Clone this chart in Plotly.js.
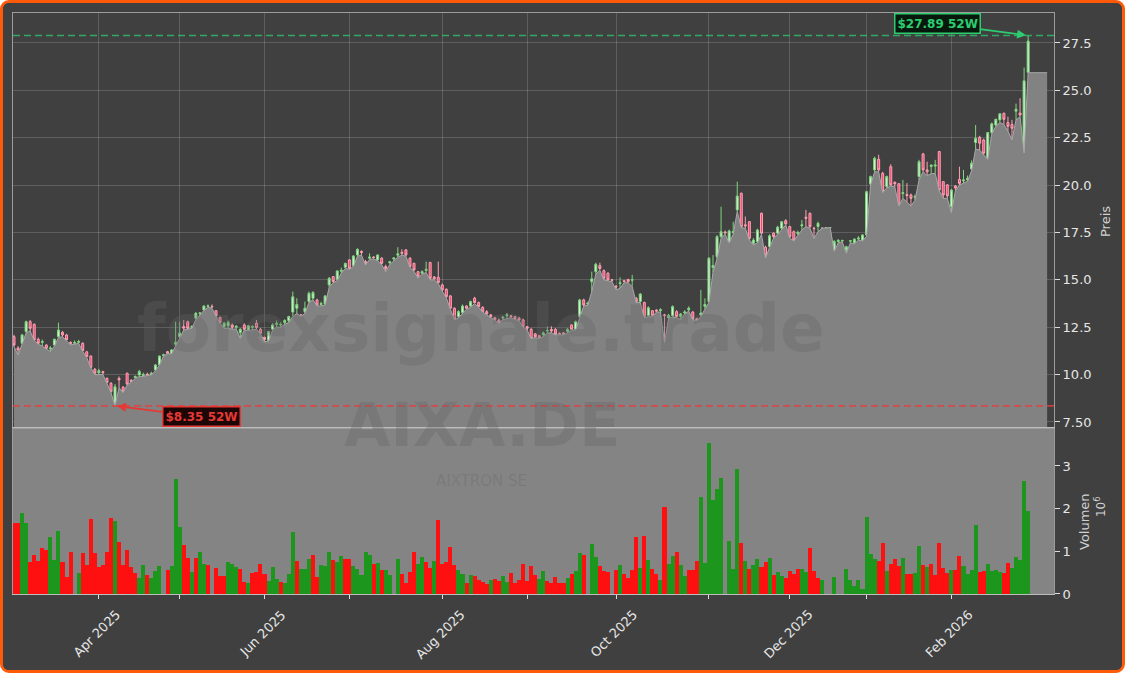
<!DOCTYPE html>
<html><head><meta charset="utf-8">
<script src="https://cdn.plot.ly/plotly-3.0.1.min.js"></script>
<style>
html,body{margin:0;padding:0;background:#ffffff;}
#wrap{position:absolute;left:0;top:0;width:1125px;height:673px;box-sizing:border-box;border:3px solid #ff5a0a;border-radius:9px;overflow:hidden;background:#404040;}
#chart{position:absolute;left:-3px;top:-3px;width:1125px;height:673px;}
</style></head><body><div id="wrap"><div id="chart"></div></div>
<script>
// ---- data (AIXA.DE daily, Mar 2025 - Feb 2026) ----
const firstDay = '2025-03-03';
const lastDay = '2026-02-27';
const holidays = ['2025-04-18','2025-04-21','2025-05-01','2025-12-24','2025-12-25','2025-12-26','2025-12-31','2026-01-01'];

const opens = [12.0,11.4,11.65,12.27,12.79,12.65,11.86,11.7,11.56,11.35,
11.56,12.0,12.23,12.09,11.7,11.65,11.7,11.65,11.2,10.98,
10.28,10.1,10.15,9.8,9.54,8.48,9.8,9.33,10.07,9.7,
9.85,9.98,9.95,10.02,10.0,10.24,10.51,11.0,11.21,11.12,
11.6,12.0,12.53,12.79,12.5,12.97,13.23,13.41,13.6,13.6,
13.37,13.02,12.53,12.57,12.62,12.5,12.21,12.62,12.35,12.5,
12.71,12.39,11.97,11.8,12.39,12.65,12.62,12.75,12.85,13.3,
13.5,13.15,13.32,13.85,14.03,13.94,13.7,13.73,14.73,15.17,
15.03,15.45,15.66,16.05,15.73,16.31,16.5,15.96,16.14,16.2,
16.05,16.14,15.7,15.9,16.1,16.3,16.45,16.58,16.14,15.87,
15.43,15.35,15.5,15.91,15.15,15.13,14.73,14.5,14.15,13.5,
13.06,13.27,13.62,13.62,14.03,13.8,13.55,13.32,13.15,13.0,
12.88,12.98,13.1,13.1,13.05,12.97,12.88,12.53,12.39,12.15,
12.05,12.1,12.3,12.38,12.39,12.18,12.2,12.27,12.62,12.39,
13.06,13.94,13.72,14.9,15.43,15.75,15.48,15.35,15.0,14.66,
14.8,14.95,15.02,14.98,14.02,13.85,13.8,13.1,13.37,13.4,
13.38,13.15,13.0,13.1,13.32,13.05,13.25,13.42,13.3,12.95,
13.15,13.6,13.85,15.65,16.22,17.28,17.52,17.02,17.5,18.69,
19.57,17.9,18.07,16.93,17.02,18.51,16.72,16.75,17.46,17.46,
17.72,18.12,17.81,17.54,17.45,17.85,18.3,18.51,17.72,17.81,
17.72,17.76,17.76,16.58,17.02,17.05,16.58,17.04,16.97,17.15,
17.1,17.37,20.05,20.8,21.36,20.62,19.92,20.97,20.14,20.07,
19.55,19.5,19.48,19.35,20.45,21.64,20.8,20.98,21.0,21.77,
20.18,20.01,18.86,19.95,20.3,20.22,20.27,20.85,22.25,22.52,
22.38,21.41,22.77,23.17,23.44,23.79,23.3,23.2,23.9,23.8,
21.9,25.95];

const highs = [12.1,11.5,12.15,12.85,12.88,12.7,11.95,11.85,11.6,11.5,
11.9,12.74,12.3,12.15,11.75,11.8,11.83,11.7,11.25,11.0,
10.35,10.3,10.2,9.85,9.6,9.5,9.9,9.4,10.1,9.75,
9.95,10.25,10.1,10.1,10.15,10.55,11.0,11.1,11.25,11.35,
12.79,12.79,12.88,12.85,12.6,13.3,13.3,13.65,13.7,13.7,
13.4,13.05,12.78,12.85,12.7,12.6,12.45,12.7,12.62,12.6,
12.88,12.45,12.0,12.3,12.7,12.85,12.75,12.92,13.1,14.38,
14.03,13.2,13.85,14.38,14.4,14.0,13.85,14.2,15.15,15.2,
15.5,15.65,15.9,16.1,16.3,16.66,16.55,16.05,16.4,16.25,
16.35,16.2,15.8,16.0,16.2,16.72,16.61,16.62,16.2,15.9,
15.45,15.5,15.96,15.95,15.2,15.96,14.8,14.55,14.2,13.55,
13.4,13.7,13.65,13.9,14.1,13.85,13.6,13.4,13.2,13.05,
12.95,13.1,13.25,13.15,13.1,13.05,12.95,12.55,12.45,12.2,
12.1,12.27,12.53,12.55,12.45,12.22,12.25,12.45,12.65,12.85,
14.0,14.0,13.85,15.43,15.9,15.9,15.55,15.4,15.05,14.73,
15.13,15.0,15.05,15.26,14.1,14.3,13.85,13.6,13.4,13.45,
13.5,13.2,13.2,13.65,13.4,13.25,13.4,13.6,13.35,13.0,
14.47,14.02,16.2,16.3,17.35,18.86,17.6,17.65,18.07,20.18,
19.6,18.34,18.1,17.2,17.7,18.55,16.8,17.4,17.5,17.85,
18.1,18.2,17.85,17.6,17.6,18.16,18.69,18.55,17.8,18.07,
17.75,17.78,17.78,17.1,17.15,17.12,16.8,17.1,17.2,17.3,
17.4,19.7,20.5,21.5,21.6,20.7,20.5,21.1,20.2,20.1,
20.27,20.1,19.55,19.5,21.33,21.7,21.23,21.1,21.33,21.8,
20.2,20.05,19.8,20.0,20.97,20.8,20.5,21.3,23.17,22.6,
22.45,22.8,23.3,23.5,23.79,23.82,23.61,23.44,24.3,24.58,
26.2,27.89];

const lows = [11.47,11.04,11.6,12.2,12.3,11.8,11.6,11.5,11.35,11.21,
11.5,11.95,12.0,11.8,11.56,11.6,11.65,11.22,10.9,10.35,
10.0,10.0,10.0,9.54,9.05,8.35,9.3,9.05,9.45,9.6,
9.8,9.9,9.9,9.95,9.98,10.2,10.5,10.98,11.1,11.1,
11.47,11.9,12.35,12.38,12.44,12.9,13.15,13.38,13.55,13.5,
13.08,12.7,12.44,12.44,12.4,12.4,11.91,12.35,12.32,12.35,
12.39,12.15,11.74,11.76,12.35,12.5,12.5,12.65,12.75,13.06,
13.23,13.06,13.23,13.8,13.95,13.62,13.62,13.67,14.6,14.85,
14.95,15.35,15.6,15.55,15.7,16.25,16.3,15.78,16.08,16.1,
16.0,15.8,15.43,15.8,16.0,16.2,16.3,16.25,15.65,15.45,
15.08,15.3,15.38,15.0,15.0,14.8,14.4,14.05,13.45,12.88,
13.0,13.2,13.45,13.55,13.75,13.55,13.3,13.15,13.0,12.85,
12.71,12.9,12.97,13.0,12.9,12.85,12.5,12.35,11.9,11.95,
11.9,12.0,12.2,12.2,12.1,12.1,12.1,12.2,12.35,12.35,
13.0,13.62,13.65,14.38,15.3,15.5,15.0,14.95,14.9,14.47,
14.55,14.85,14.85,14.64,13.8,13.8,13.0,13.05,13.05,13.3,
13.3,11.69,12.95,13.05,13.0,12.9,13.2,13.35,12.9,12.85,
13.05,13.45,13.8,15.4,16.1,17.2,17.4,16.95,17.4,18.6,
17.75,17.72,17.1,16.84,16.95,17.4,16.15,16.7,17.2,17.4,
17.65,17.9,17.2,17.05,17.35,17.63,17.81,17.72,17.19,17.54,
17.72,17.76,17.76,16.5,16.95,17.0,16.4,16.95,16.9,17.1,
17.05,17.3,20.0,20.7,20.7,19.6,19.85,19.95,19.9,18.9,
19.3,19.1,18.9,19.2,20.27,20.7,20.5,20.6,20.62,19.7,
19.3,19.3,18.55,19.7,20.0,20.1,20.2,20.75,21.9,21.85,
21.6,21.35,22.7,23.1,23.3,23.2,22.85,22.38,23.44,23.6,
21.7,25.93];

const closes = [11.56,11.3,12.09,12.79,12.44,11.83,11.65,11.74,11.39,11.4,
11.86,12.35,12.09,11.83,11.65,11.69,11.74,11.26,10.95,10.38,
10.07,10.2,10.1,9.58,9.1,9.36,9.72,9.1,9.5,9.65,
9.9,10.16,10.0,9.97,10.07,10.51,10.98,11.04,11.12,11.3,
11.7,12.2,12.45,12.44,12.53,13.23,13.25,13.62,13.62,13.58,
13.09,12.74,12.71,12.76,12.5,12.55,12.39,12.39,12.57,12.53,
12.48,12.18,11.85,12.27,12.62,12.7,12.65,12.85,13.06,14.1,
13.7,13.1,13.5,14.29,14.33,13.67,13.75,14.15,15.08,14.91,
15.47,15.5,15.87,15.61,16.26,16.61,16.45,15.9,16.2,16.18,
16.31,15.87,15.6,15.95,16.15,16.37,16.4,16.31,15.7,15.52,
15.2,15.43,15.55,15.08,15.05,14.85,14.47,14.11,13.5,12.92,
13.32,13.62,13.5,13.85,13.8,13.59,13.32,13.2,13.05,12.9,
12.78,13.02,13.15,13.05,12.95,12.88,12.53,12.44,11.92,12.0,
11.96,12.2,12.32,12.3,12.14,12.14,12.15,12.39,12.39,12.79,
13.94,13.67,13.76,15.05,15.82,15.6,15.08,15.0,14.98,14.62,
14.85,14.92,14.9,15.0,13.85,14.25,13.06,13.53,13.1,13.35,
13.42,13.12,13.12,13.59,13.06,13.2,13.3,13.5,12.95,12.88,
13.25,13.7,16.14,15.75,17.28,17.54,17.48,17.58,17.55,19.42,
17.81,17.85,17.19,17.1,17.63,17.46,16.32,17.32,17.28,17.78,
18.07,17.95,17.28,17.1,17.5,17.9,18.25,17.81,17.7,17.98,
17.72,17.76,17.76,17.02,17.08,17.07,16.75,17.06,17.14,17.2,
17.37,19.65,20.45,21.41,20.8,19.65,20.45,20.01,20.07,18.95,
19.6,19.45,19.3,19.4,21.23,20.8,20.7,21.05,21.06,19.74,
19.48,19.43,19.74,19.85,20.09,20.27,20.36,21.15,22.47,22.21,
21.68,22.77,23.23,23.47,23.76,23.47,23.1,23.0,24.0,23.7,
25.5,27.6];

// volume in millions
const volumes = [1.66,1.66,1.89,1.66,0.76,0.91,0.78,1.07,1.03,1.34,
0.8,1.48,0.76,0.41,0.99,0,0.5,0.97,0.68,1.76,
0.95,0.64,0.68,0.98,1.79,1.71,1.22,0.68,1.02,0.64,
0.5,0.38,0.67,0.45,0.38,0.54,0.66,0,0.56,0.66,
2.69,1.56,1.14,0.84,0.52,0.84,0.98,0.7,0.69,0,
0.61,0.42,0.42,0.75,0.7,0.64,0.59,0.28,0.26,0.5,
0.52,0.7,0.47,0.3,0.63,0.34,0.29,0.25,0.47,1.45,
0.77,0.59,0.59,0.82,0.91,0.41,0.68,0.66,0.98,0.8,
0.75,0.89,0.81,0.82,0.66,0.59,0.45,0.98,0.91,0.7,
0.73,0.56,0.56,0.45,0,0.82,0.47,0.25,0.52,0.98,
0.7,0.87,0.74,0.61,0.77,1.73,0.7,0.75,1.11,0.68,
0.56,0.47,0.25,0.45,0.42,0.33,0.28,0.24,0.33,0.35,
0.3,0.42,0.28,0.49,0.26,0.33,0.7,0.3,0.66,0.45,
0.35,0.54,0.3,0.26,0.4,0.26,0.26,0.37,0.47,0.54,
0.96,0.91,0,1.17,0.87,0.66,0.54,0.52,0,0.56,
0.68,0.47,0.38,0.56,1.34,0.61,1.36,0.8,0.59,0.47,
0.33,2.04,0.7,0.89,0.99,0.68,0.42,0.56,0.56,0.77,
2.27,0.72,3.55,2.2,2.46,2.73,0,1.24,0.59,2.93,
1.2,0.77,0.59,0.68,0.82,0.63,0.74,0.85,0.45,0.52,
0.42,0.37,0.54,0.47,0.59,0.59,0.52,1.08,0.54,0.38,
0.33,0,0,0.4,0,0,0.59,0.33,0.19,0.33,
0.12,1.8,0.94,0.82,0.77,1.2,0.54,0.7,0.82,0.66,
0.84,0.47,0.47,0.49,1.13,0.68,0.63,0.7,0.45,1.2,
0.61,0.49,0.56,0.56,0.89,0.66,0.47,0.56,1.62,0.52,
0.54,0.7,0.54,0.56,0.52,0.49,0.73,0.61,0.87,0.8,
2.65,1.95];

// 1 = up day (green volume bar), 0 = down day (red)
const volUp = [0,0,1,1,0,0,0,0,0,1, 1,1,0,0,0,1,1,0,0,0, 0,0,0,0,0,1,0,0,0,0, 0,1,1,0,1,1,1,1,0,1,
1,1,0,0,1,0,1,1,0,0, 0,0,0,1,1,1,0,0,1,0, 0,0,0,1,1,1,0,1,1,1, 0,1,1,1,0,0,1,1,1,0,
1,1,0,0,1,1,1,1,1,0, 1,0,1,1,1,1,0,0,0,0, 1,1,0,0,1,0,0,0,0,0, 1,1,0,1,0,0,0,0,1,0,
0,1,1,0,0,0,0,0,0,0, 1,1,0,0,0,0,0,1,0,1, 1,0,1,1,1,0,0,0,1,0, 1,0,0,0,0,1,0,1,0,0,
1,0,1,1,0,1,1,0,0,0, 1,1,1,1,1,1,1,1,1,1, 0,1,0,1,1,0,0,1,0,1, 1,0,0,0,0,1,1,0,0,0,
1,1,1,1,1,1,1,1,1,1, 1,1,1,1,0,0,1,0,0,0, 1,0,0,1,1,0,1,0,0,0, 0,0,1,0,0,1,1,1,1,0,
0,1,1,1,1,0,0,1,1,1, 1,1];

const xTickLabels = ['Apr 2025','','Jun 2025','','Aug 2025','','Oct 2025','','Dec 2025','','Feb 2026'];
const priceTicks = [7.5,10,12.5,15,17.5,20,22.5,25,27.5];
const priceTickText = ['7.50','10.0','12.5','15.0','17.5','20.0','22.5','25.0','27.5'];
const volTicks = [0,1,2,3];
const volTickText = ['0','1','2','3'];

// ---- trading calendar ----
function tradingDays(a, b, hol){
  const out = []; const d = new Date(a + 'T12:00:00Z'); const end = new Date(b + 'T12:00:00Z');
  while (d <= end){
    const wd = d.getUTCDay(); const s = d.toISOString().slice(0,10);
    if (wd !== 0 && wd !== 6 && hol.indexOf(s) < 0) out.push(s);
    d.setUTCDate(d.getUTCDate() + 1);
  }
  return out;
}
const dates = tradingDays(firstDay, lastDay, holidays);
const N = closes.length;
const idx = dates.slice(0, N).map((_, i) => i);

// first trading day of each month (from April on)
const monthStarts = [];
for (let i = 1; i < N; i++) if (dates[i].slice(5,7) !== dates[i-1].slice(5,7)) monthStarts.push(i);

const hiVal = Math.max(...highs), hiIdx = highs.indexOf(hiVal);
const loVal = Math.min(...lows), loIdx = lows.indexOf(loVal);

const areaTail = 4.7; // low-area keeps last value a few bars to the right
const areaX = idx.concat([N - 1 + areaTail]);
const areaY = lows.concat([lows[N - 1]]);

const GREEN = '#1c961c', RED = '#ff1010';
const font = {family: 'DejaVu Sans, sans-serif', color: '#e6e6e6', size: 13};
const wm = 'rgba(100,100,100,0.32)';
const titleFont = {family: 'DejaVu Sans, sans-serif', size: 13, color: '#d0d0d0'};

const traces = [
  {type: 'scatter', mode: 'lines', x: areaX, y: areaY, fill: 'tozeroy', fillcolor: '#828282',
   line: {color: '#a8a8a8', width: 1}, xaxis: 'x', yaxis: 'y', hoverinfo: 'skip'},
  {type: 'candlestick', x: idx, open: opens, high: highs, low: lows, close: closes,
   increasing: {line: {color: '#7fd67f', width: 1}, fillcolor: '#dcf3dc'},
   decreasing: {line: {color: '#ffa0b4', width: 1}, fillcolor: '#ec4a72'},
   whiskerwidth: 0, xaxis: 'x', yaxis: 'y', hoverinfo: 'skip'},
  {type: 'bar', x: idx, y: volumes, width: 1,
   marker: {color: volUp.map(u => u ? GREEN : RED), line: {width: 0}},
   xaxis: 'x2', yaxis: 'y2', hoverinfo: 'skip'}
];

const xLabelAnns = monthStarts.map((m, k) => ({
  xref: 'x2', yref: 'paper', x: m, y: -0.0175, xanchor: 'center', yanchor: 'top', xshift: -2,
  text: xTickLabels[k] || '', showarrow: false, textangle: -45,
  font: {family: 'DejaVu Sans, sans-serif', size: 13, color: '#e6e6e6'}
})).filter(a => a.text !== '');

const xr = [-0.25, 257.4];
const layout = {
  width: 1125, height: 673,
  margin: {l: 13, r: 71, t: 13, b: 79},
  paper_bgcolor: '#404040', plot_bgcolor: '#404040',
  font: font, showlegend: false, bargap: 0,
  xaxis: {domain: [0, 1], range: xr, anchor: 'y', rangeslider: {visible: false},
    tickvals: monthStarts, showticklabels: false, ticks: '',
    showgrid: true, gridcolor: 'rgba(255,255,255,0.16)', gridwidth: 1,
    showline: true, mirror: true, linecolor: '#9c9c9c', linewidth: 1, zeroline: false},
  xaxis2: {domain: [0, 1], range: xr, anchor: 'y2', matches: 'x',
    tickvals: monthStarts, showticklabels: false,
    ticks: 'outside', ticklen: 4, tickcolor: '#dddddd',
    showgrid: false, showline: true, mirror: true, linecolor: '#bdbdbd', linewidth: 1, zeroline: false},
  yaxis: {domain: [0.2857, 1], range: [7.18, 29.08], side: 'right', anchor: 'x',
    tickvals: priceTicks, ticktext: priceTickText, ticks: 'outside', ticklen: 5, tickcolor: '#dddddd',
    showgrid: true, gridcolor: 'rgba(255,255,255,0.16)', zeroline: false,
    showline: true, mirror: true, linecolor: '#9c9c9c'},
  yaxis2: {domain: [0, 0.2857], range: [0, 3.89], side: 'right', anchor: 'x2',
    tickvals: volTicks, ticktext: volTickText, ticks: 'outside', ticklen: 5, tickcolor: '#dddddd',
    showgrid: false, zeroline: false, showline: true, mirror: true, linecolor: '#9c9c9c'},
  shapes: [
    {type: 'rect', xref: 'x2 domain', yref: 'y2 domain', x0: 0, x1: 1, y0: 0, y1: 1,
     fillcolor: '#848484', line: {width: 0}, layer: 'below'},
    {type: 'line', xref: 'x domain', x0: 0, x1: 1, yref: 'y', y0: hiVal, y1: hiVal,
     line: {color: 'rgba(46,204,113,0.75)', width: 1.6, dash: '7px,4px'}},
    {type: 'line', xref: 'x domain', x0: 0, x1: 1, yref: 'y', y0: loVal, y1: loVal,
     line: {color: 'rgba(231,60,60,0.8)', width: 1.6, dash: '7px,4px'}}
  ],
  annotations: [
    {xref: 'paper', yref: 'paper', x: 0.4496, y: 0.4578, text: 'forexsignale.trade', showarrow: false,
     font: {family: 'DejaVu Sans', size: 66, color: wm, weight: 'bold'}},
    {xref: 'paper', yref: 'paper', x: 0.4505, y: 0.2272, text: 'AIXA.DE', showarrow: false,
     font: {family: 'DejaVu Sans', size: 60, color: wm, weight: 'bold'}},
    {xref: 'paper', yref: 'paper', x: 0.4505, y: 0.1756, text: 'AIXTRON SE', showarrow: false,
     font: {family: 'DejaVu Sans', size: 15, color: wm}},
    {xref: 'x', yref: 'y', x: hiIdx, y: hiVal, text: '$' + hiVal.toFixed(2) + ' 52W',
     showarrow: true, ax: -91, ay: -12, arrowhead: 2, arrowsize: 1, arrowwidth: 1.8, arrowcolor: '#2ecc71', standoff: 2,
     font: {family: 'DejaVu Sans', size: 12, color: '#2ecc71', weight: 'bold'},
     bgcolor: '#07190c', bordercolor: '#2ecc71', borderwidth: 1.5, borderpad: 2},
    {xref: 'x', yref: 'y', x: loIdx, y: loVal, text: '$' + loVal.toFixed(2) + ' 52W',
     showarrow: true, ax: 86, ay: 11, arrowhead: 2, arrowsize: 1, arrowwidth: 1.8, arrowcolor: '#e53935', standoff: 2,
     font: {family: 'DejaVu Sans', size: 12, color: '#e53935', weight: 'bold'},
     bgcolor: '#1c0606', bordercolor: '#e53935', borderwidth: 1.5, borderpad: 2},
    {xref: 'paper', yref: 'paper', x: 1.0500, y: 0.6403, xanchor: 'center', yanchor: 'middle',
     text: 'Preis', showarrow: false, textangle: -90, font: titleFont},
    {xref: 'paper', yref: 'paper', x: 1.0288, y: 0.1256, xanchor: 'center', yanchor: 'middle',
     text: 'Volumen', showarrow: false, textangle: -90, font: titleFont},
    {xref: 'paper', yref: 'paper', x: 1.0442, y: 0.1497, xanchor: 'center', yanchor: 'middle',
     text: '10<sup>6</sup>', showarrow: false, textangle: -90, font: {family: 'DejaVu Sans, sans-serif', size: 12, color: '#d0d0d0'}}
  ].concat(xLabelAnns)
};

Plotly.newPlot('chart', traces, layout, {displayModeBar: false, staticPlot: true});
</script></body></html>
